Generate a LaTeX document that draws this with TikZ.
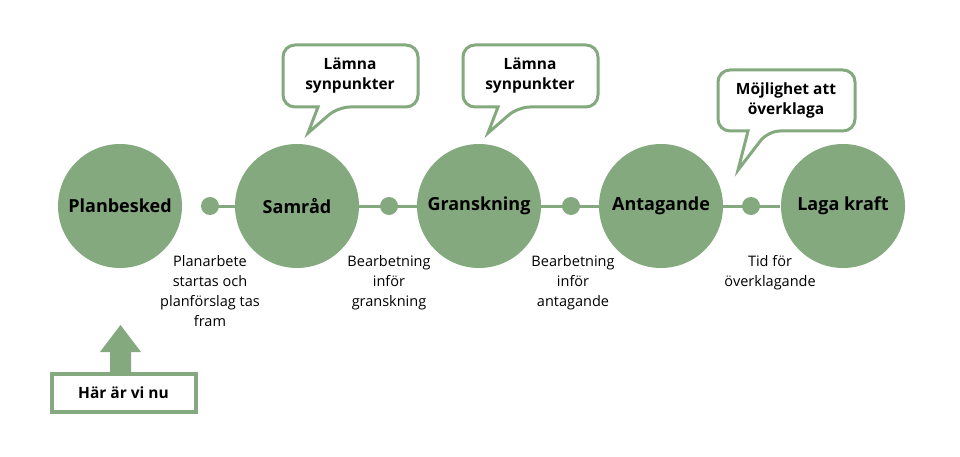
\documentclass[tikz,border=0pt]{standalone}
\usepackage{fontspec}
\setmainfont{Open Sans}
\definecolor{sage}{HTML}{84A97E}
\begin{document}
\begin{tikzpicture}[x=1pt,y=-1pt,
  stage/.style={circle,fill=sage,minimum size=124pt,inner sep=0pt,font=\bfseries\fontsize{18}{20}\selectfont},
  dot/.style={circle,fill=sage,minimum size=18pt,inner sep=0pt},
  lbl/.style={align=center,font=\fontsize{14.5}{20}\selectfont},
  bub/.style={draw=sage,line width=3pt,fill=white,rounded corners=12pt},
  btxt/.style={align=center,font=\bfseries\fontsize{15.5}{20}\selectfont}]
\useasboundingbox (0,0) rectangle (960,457);
\draw[sage,line width=3pt] (210,206) -- (780,206);
\node[stage] (p) at (120,206) {Planbesked};
\node[stage] (s) at (297,206) {Samråd};
\node[stage] (g) at (479,206) {Granskning};
\node[stage] (a) at (661,206) {Antagande};
\node[stage] (l) at (843,206) {Laga kraft};
\node[dot] (d1) at (210,206) {};
\node[dot] (d2) at (389,206) {};
\node[dot] (d3) at (571,206) {};
\node[dot] (d4) at (751,206) {};
\node[lbl,anchor=north] (t1) at (210,252) {Planarbete\\startas och\\planförslag tas\\fram};
\node[lbl,anchor=north] (t2) at (389,252) {Bearbetning\\inför\\granskning};
\node[lbl,anchor=north] (t3) at (573,252) {Bearbetning\\inför\\antagande};
\node[lbl,anchor=north] (t4) at (770,252) {Tid för\\överklagande};
% bubbles
\draw[bub] (283,45) -- (418,45) -- (418,107) -- (338,107) [sharp corners] -- (308,133) -- (318,107) [rounded corners=12pt] -- (283,107) -- cycle;
\node[btxt] (b1) at (350,76) {Lämna\\synpunkter};
\draw[bub] (463,45) -- (598,45) -- (598,107) -- (518,107) [sharp corners] -- (488,133) -- (498,107) [rounded corners=12pt] -- (463,107) -- cycle;
\node[btxt] (b2) at (530,76) {Lämna\\synpunkter};
\draw[bub] (718,70) -- (855,70) -- (855,131) -- (768,131) [sharp corners] -- (738,170) -- (748,131) [rounded corners=12pt] -- (718,131) -- cycle;
\node[btxt] (b3) at (786,100) {Möjlighet att\\överklaga};
% arrow and box
\node[draw=sage,line width=4pt,minimum width=144pt,minimum height=38pt,inner sep=0pt,font=\bfseries\fontsize{15.5}{18}\selectfont] (h) at (123.5,392.5) {Här är vi nu};
\fill[sage] (110,372) -- (110,352) -- (100,352) -- (120.5,325) -- (141,352) -- (131,352) -- (131,372) -- cycle;
\end{tikzpicture}
\end{document}
